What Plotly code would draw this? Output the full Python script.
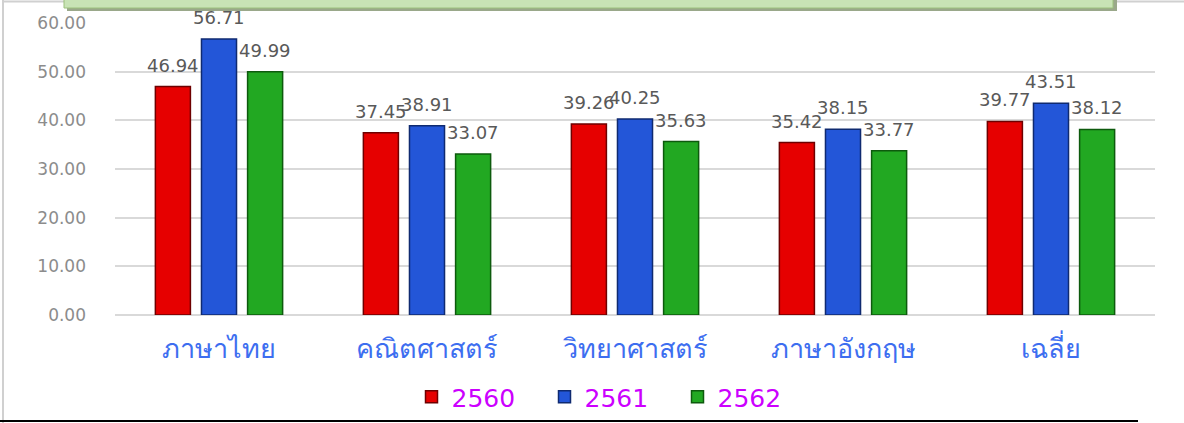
import plotly.graph_objects as go

categories = ["ภาษาไทย", "คณิตศาสตร์", "วิทยาศาสตร์", "ภาษาอังกฤษ", "เฉลี่ย"]
years = ["2560", "2561", "2562"]
v2560 = [46.94, 37.45, 39.26, 35.42, 39.77]
v2561 = [56.71, 38.91, 40.25, 38.15, 43.51]
v2562 = [49.99, 33.07, 35.63, 33.77, 38.12]
y_ticks = [0, 10, 20, 30, 40, 50, 60]

W, H = 1184, 423
L, R, T, B = 115, 29, 23, 108
PW, PH = W - L - R, H - T - B
BARGAP = 0.335

def px(x):
    return (x - L) / PW

def py(y):
    return (H - B - y) / PH

fills = ["#e60000", "#2356d8", "#22a822"]
edges = ["#6e0000", "#0f2a70", "#0d5a0d"]

slot = (1 - BARGAP) * (PW / len(categories)) / len(years)

fig = go.Figure()
annotations = []
for i, (name, vals, fc, ec) in enumerate(zip(years, [v2560, v2561, v2562], fills, edges)):
    fig.add_trace(go.Bar(
        x=categories, y=vals, name=name,
        marker=dict(color=fc, line=dict(color=ec, width=1.5)),
    ))
    for c, v in zip(categories, vals):
        annotations.append(dict(
            x=c, y=v, xref="x", yref="y", text=f"{v:.2f}", showarrow=False,
            yanchor="bottom", xanchor="center", yshift=9, xshift=(i - 1) * slot,
            font=dict(family="DejaVu Sans", size=18, color="#595959"),
        ))

fig.update_layout(
    width=W, height=H,
    margin=dict(l=L, r=R, t=T, b=B, autoexpand=False),
    paper_bgcolor="white", plot_bgcolor="white",
    barmode="group", bargap=BARGAP, bargroupgap=0.24,
    showlegend=True,
    legend=dict(orientation="h", x=px(611), xanchor="center", y=py(397), yanchor="middle",
                font=dict(family="DejaVu Sans", size=25, color="#cc00ff"),
                itemwidth=30, entrywidth=88, traceorder="normal"),
    xaxis=dict(showgrid=False, showline=False, ticks="", ticklabelstandoff=15,
               tickfont=dict(family="Tahoma, DejaVu Sans", size=27, color="#3d6ef0")),
    yaxis=dict(range=[0, 60], tickvals=y_ticks, ticktext=[f"{t:.2f}" for t in y_ticks],
               showgrid=True, gridcolor="#d9d9d9", gridwidth=2, zeroline=True,
               zerolinecolor="#d9d9d9", zerolinewidth=2, ticks="", ticklabelstandoff=28,
               tickfont=dict(family="DejaVu Sans", size=17, color="#8c8c8c")),
    annotations=annotations,
    shapes=[
        dict(type="line", xref="paper", yref="paper", x0=px(3), x1=px(3), y0=py(0), y1=py(423),
             line=dict(color="#d0d0d0", width=2)),
        dict(type="line", xref="paper", yref="paper", x0=px(3), x1=px(1184), y0=py(1.5), y1=py(1.5),
             line=dict(color="#d0d0d0", width=2)),
        dict(type="rect", xref="paper", yref="paper", x0=px(67), x1=px(1117), y0=py(0), y1=py(11),
             fillcolor="#9aa88a", line=dict(width=0)),
        dict(type="rect", xref="paper", yref="paper", x0=px(64), x1=px(1113), y0=py(-2), y1=py(8),
             fillcolor="#c8e3b5", line=dict(color="#9cc07c", width=1)),
        dict(type="line", xref="paper", yref="paper", x0=px(0), x1=px(1138), y0=py(421), y1=py(421),
             line=dict(color="black", width=2)),
    ],
)

fig.write_html("out.html", config={"displayModeBar": False},
               post_script="document.body.style.margin='0';document.body.style.overflow='hidden';")
